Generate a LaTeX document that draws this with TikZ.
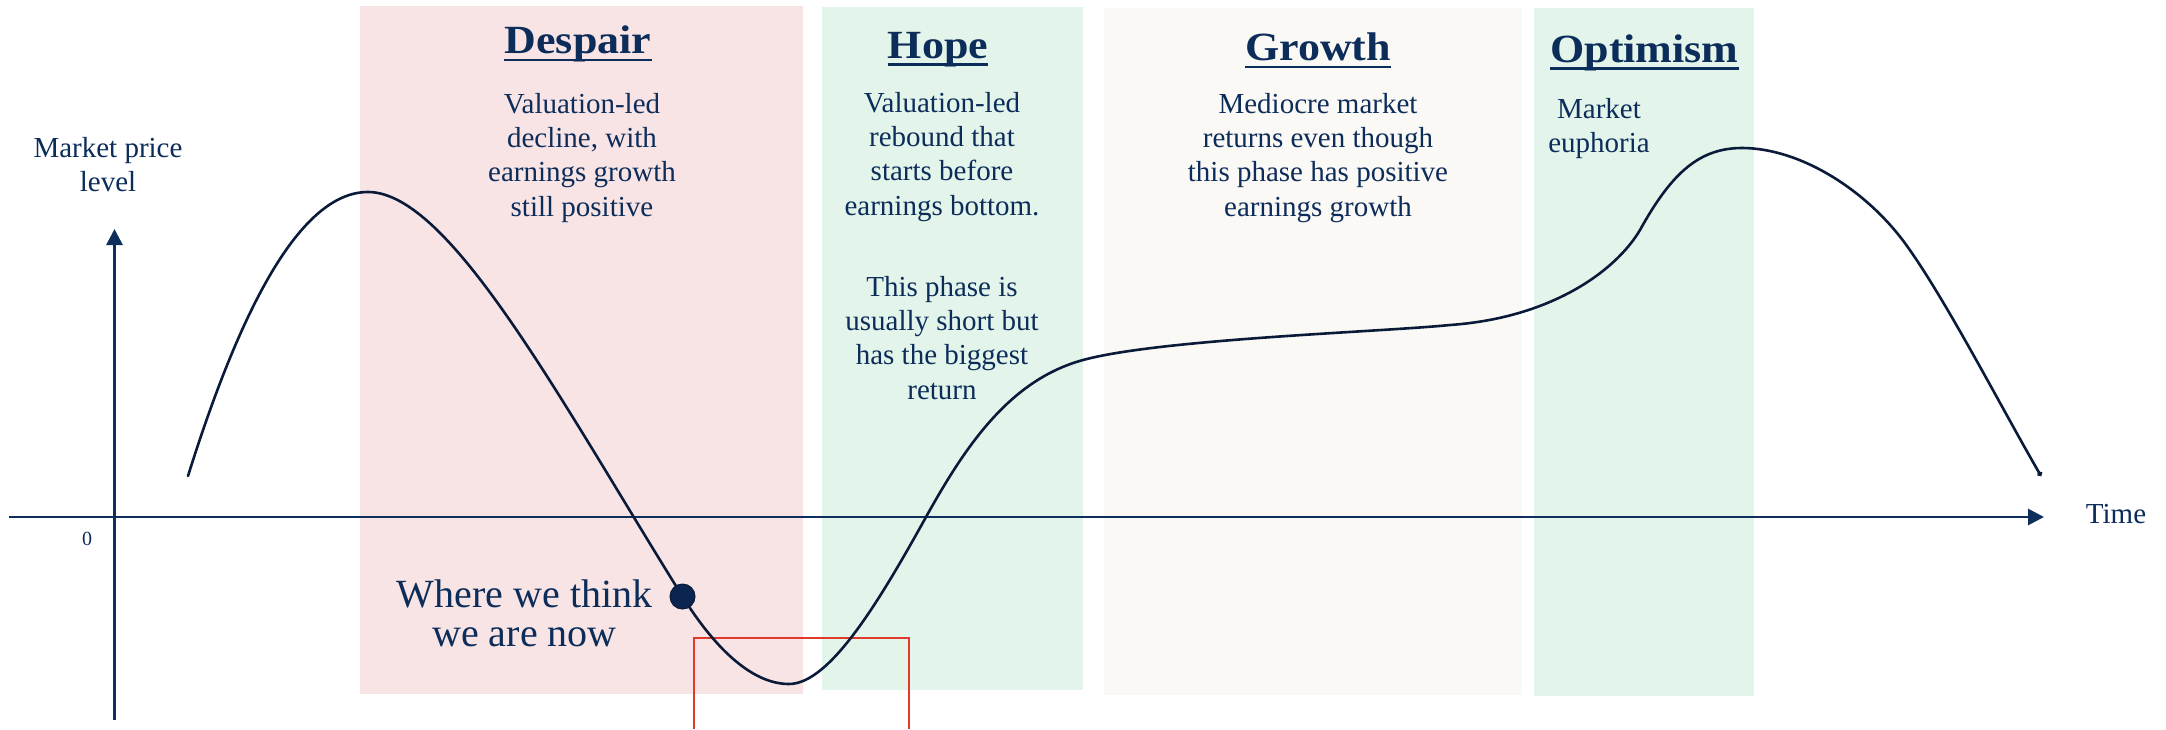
\documentclass[tikz,border=0pt]{standalone}
\usepackage{fontspec}
\setmainfont{Liberation Serif}
\newfontfamily\titlefont[FakeStretch=1.1]{Liberation Serif}
\usetikzlibrary{arrows.meta}

\definecolor{navy}{HTML}{0C2C5A}
\definecolor{axisblue}{HTML}{0E2E5C}
\definecolor{curveblue}{HTML}{0A1B3A}
\definecolor{dotblue}{HTML}{0A2550}
\definecolor{despairfill}{HTML}{F8E4E5}
\definecolor{hopefill}{HTML}{E3F5EB}
\definecolor{growthfill}{HTML}{FAF9F5}
\definecolor{markred}{HTML}{E23A2A}

\begin{document}
\begin{tikzpicture}[x=1pt,y=-1pt,
  ttl/.style={font=\titlefont\bfseries\fontsize{40}{44}\selectfont, text=navy, inner sep=0pt, anchor=base},
  desc/.style={font=\fontsize{29}{34.4}\selectfont, text=navy, align=center, inner sep=0pt, anchor=base},
  bigdesc/.style={font=\fontsize{40}{39}\selectfont, text=navy, align=center, inner sep=0pt, anchor=base},
  ul/.style={draw=navy, line width=2.2pt},
  axis/.style={draw=axisblue, line width=2.8pt, -{Triangle[length=16pt,width=16pt]}},
  curve/.style={draw=curveblue, line width=2.6pt, line cap=round, -{Circle[length=5pt]}},
  marker/.style={circle, fill=dotblue, draw=curveblue, line width=1pt, minimum size=25pt, inner sep=0pt},
  redbox/.style={draw=markred, line width=2.8pt}
]
\useasboundingbox (0,0) rectangle (2166,729);
\fill[white] (0,0) rectangle (2166,729);

% phase bands
\fill[despairfill] (360,6)   rectangle (803,694);
\fill[hopefill]    (822,7)   rectangle (1083,690);
\fill[growthfill]  (1104,8)  rectangle (1522,695);
\fill[hopefill]    (1534,8)  rectangle (1754,696);

% phase titles with underlines
\node[ttl] (tdespair) at (578,53.5) {Despair};
\node[ttl] (thope)    at (938,58)   {Hope};
\node[ttl] (tgrowth)  at (1318,60.5){Growth};
\node[ttl] (toptim)   at (1644.5,62){Optimism};
\foreach \t in {tdespair,thope,tgrowth,toptim}
  \draw[ul] ([yshift=-6.5pt]\t.base west) -- ([yshift=-6.5pt]\t.base east);

% phase descriptions (anchored at the baseline of their last line)
\node[desc] (ddespair) at (582,216.2) {Valuation-led\\decline, with\\earnings growth\\still positive};
\node[desc] (dhope)    at (942,215.2) {Valuation-led\\rebound that\\starts before\\earnings bottom.};
\node[desc] (dhope2)   at (942,399.2) {This phase is\\usually short but\\has the biggest\\return};
\node[desc] (dgrowth)  at (1318,216.2) {Mediocre market\\returns even though\\this phase has positive\\earnings growth};
\node[desc] (doptim)   at (1599,152.9) {Market\\euphoria};

% axes
\coordinate (ybot) at (114.5,720);
\coordinate (ytop) at (114.5,229);
\coordinate (xleft) at (9,517);
\coordinate (xright) at (2044,517);
\draw[axis] (ybot) -- (ytop);
\draw[axis] (xleft) -- (xright);
\node[desc] (ylabel) at (108,191.5) {Market price\\level};
\node[font=\fontsize{29}{34}\selectfont, text=navy, inner sep=0pt] (xlabel) at (2116,514) {Time};
\node[font=\fontsize{20}{24}\selectfont, text=navy, inner sep=0pt] (origin) at (87,539) {0};

% highlighted window
\draw[redbox] (694,729) -- (694,638) -- (909,638) -- (909,729);

% market cycle curve
\draw[curve] (188,476)
  .. controls (240,310) and (300,192) .. (368,192)
  .. controls (450,192) and (560,400) .. (682.5,596.5)
  .. controls (712.5,644.5) and (750,684) .. (789,684)
  .. controls (830,684) and (880,600) .. (926,517)
  .. controls (966,445) and (1010,380) .. (1083,360)
  .. controls (1160,339) and (1380,332) .. (1450,325)
  .. controls (1550,318) and (1615,272) .. (1640,230)
  .. controls (1672,172) and (1700,148) .. (1742,148)
  .. controls (1800,148) and (1867,190) .. (1907,246)
  .. controls (1947,302) and (2000,405) .. (2041,476);

% current position
\node[marker] (now) at (682.5,596.5) {};
\node[bigdesc] (nowlabel) at (524.5,646.5) {Where we think\\we are now};
\end{tikzpicture}
\end{document}
